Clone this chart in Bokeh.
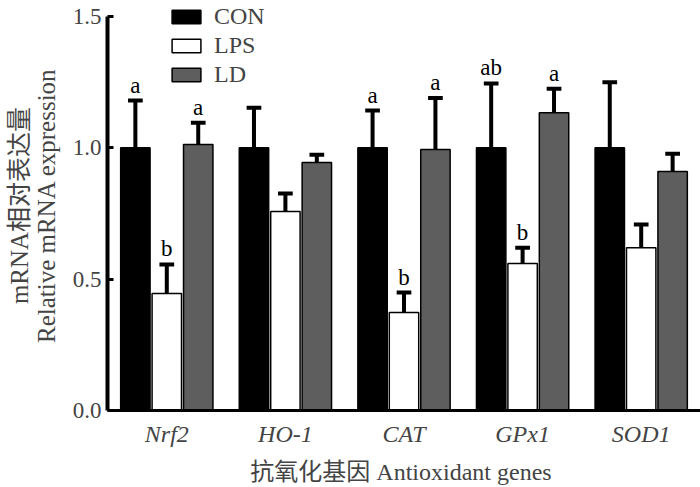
from bokeh.plotting import figure
from bokeh.models import (FactorRange, Range1d, ColumnDataSource, Legend, LegendItem,
                          FixedTicker, NumeralTickFormatter)
from bokeh.transform import dodge
from bokeh.core.properties import value
from bokeh.embed import file_html
from bokeh.resources import INLINE

genes = ["Nrf2", "HO-1", "CAT", "GPx1", "SOD1"]
groups = ["CON", "LPS", "LD"]
con_mean = [1.0, 1.0, 1.0, 1.0, 1.0]
con_err_top = [1.18, 1.153, 1.142, 1.245, 1.25]
lps_mean = [0.445, 0.758, 0.373, 0.56, 0.62]
lps_err_top = [0.556, 0.826, 0.449, 0.62, 0.708]
ld_mean = [1.013, 0.944, 0.994, 1.134, 0.91]
ld_err_top = [1.096, 0.974, 1.19, 1.225, 0.978]
con_letters = ["a", "", "a", "ab", ""]
lps_letters = ["b", "", "b", "b", ""]
ld_letters = ["a", "", "a", "a", ""]
y_ticks = [0.0, 0.5, 1.0, 1.5]
colors = ["#000000", "#ffffff", "#5e5e5e"]

SERIF = "Liberation Serif"
SERIF_CJK = "Liberation Serif, Noto Sans CJK SC"

p = figure(width=700, height=487, x_range=FactorRange(factors=genes, range_padding=0),
           y_range=Range1d(0, 1.561), output_backend="svg", toolbar_location=None,
           min_border_top=0, min_border_right=0, min_border_left=107, min_border_bottom=0)
p.outline_line_color = None
p.xgrid.visible = False
p.ygrid.visible = False

offsets = [-0.265, 0.0, 0.265]
means = [con_mean, lps_mean, ld_mean]
tops = [con_err_top, lps_err_top, ld_err_top]
letters = [con_letters, lps_letters, ld_letters]

items = []
for g, off, m, t, lt, c in zip(groups, offsets, means, tops, letters, colors):
    src = ColumnDataSource(dict(gene=genes, mean=m, err=t, letter=lt))
    r = p.vbar(x=dodge("gene", off, range=p.x_range), top="mean", bottom=0, width=0.248,
               source=src, fill_color=c, line_color="black", line_width=1.5)
    items.append(LegendItem(label=g, renderers=[r]))
    p.segment(x0=dodge("gene", off, range=p.x_range), x1=dodge("gene", off, range=p.x_range),
              y0="mean", y1="err", source=src, line_color="black", line_width=4)
    p.segment(x0=dodge("gene", off - 0.062, range=p.x_range), x1=dodge("gene", off + 0.062, range=p.x_range),
              y0="err", y1="err", source=src, line_color="black", line_width=4)
    p.text(x=dodge("gene", off, range=p.x_range), y="err", text="letter", source=src,
           y_offset=-3, text_align="center", text_baseline="bottom",
           text_font=value(SERIF), text_font_size="23px", text_color="black")

legend = Legend(items=items, location=(61, 322), glyph_width=36, glyph_height=17,
                label_text_font=SERIF, label_text_font_size="24px", spacing=2,
                padding=0, margin=0, label_standoff=10, border_line_color=None,
                background_fill_alpha=0)
p.add_layout(legend, "center")

ya = p.yaxis[0]
ya.bounds = (0, 1.5)
ya.ticker = FixedTicker(ticks=y_ticks)
ya.formatter = NumeralTickFormatter(format="0.0")
ya.axis_line_width = 4
ya.major_tick_in = 6
ya.major_tick_out = 0
ya.major_tick_line_width = 3
ya.minor_tick_line_color = None
ya.major_label_text_font = SERIF
ya.major_label_text_font_size = "23px"
ya.major_label_standoff = 6
ya.axis_label = "mRNA相对表达量\nRelative mRNA expression"
ya.axis_label_text_font = SERIF_CJK
ya.axis_label_text_font_size = "25px"
ya.axis_label_text_font_style = "normal"
ya.axis_label_text_line_height = 1.0
ya.axis_label_standoff = 10

xa = p.xaxis[0]
xa.axis_line_width = 3
xa.major_tick_line_color = None
xa.minor_tick_line_color = None
xa.major_label_text_font = SERIF
xa.major_label_text_font_size = "24px"
xa.major_label_text_font_style = "italic"
xa.major_label_standoff = 4
xa.axis_label = "抗氧化基因  Antioxidant genes"
xa.axis_label_text_font = SERIF_CJK
xa.axis_label_text_font_size = "24px"
xa.axis_label_text_font_style = "normal"
xa.axis_label_standoff = 9

open("out.html", "w").write(file_html(p, INLINE))
